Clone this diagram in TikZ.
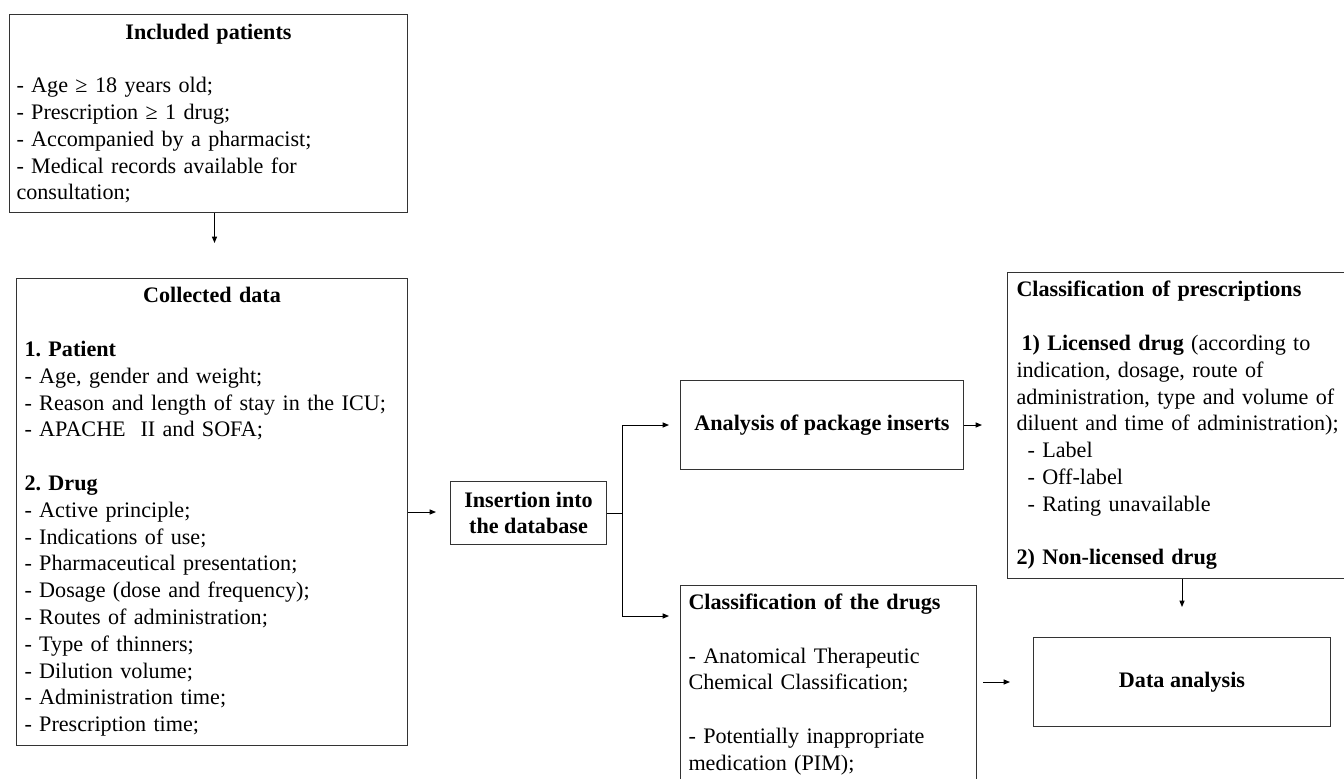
\documentclass[tikz,border=0pt]{standalone}
\usepackage{fontspec}
\setmainfont{Liberation Serif}
\usetikzlibrary{arrows.meta,calc}
\frenchspacing
\begin{document}
\begin{tikzpicture}[x=0.75pt,y=-0.75pt,
  box/.style={draw=black!80, line width=0.75pt, rectangle, anchor=north west, inner ysep=0pt,
    font=\fontsize{16.6pt}{20.1pt}\selectfont},
  lbox/.style={box, align=left},
  cbox/.style={box, align=center, font=\fontsize{16.6pt}{20.1pt}\selectfont\bfseries},
  arr/.style={-{Triangle[length=4.8pt,width=3.8pt]}, line width=0.75pt},
  ln/.style={line width=0.75pt}]
\useasboundingbox (0,0) rectangle (1344,778);
\clip (0,0) rectangle (1344,778);

\node[lbox, inner xsep=5.25pt, text width=288pt, minimum height=148.5pt] (inc) at (9,14)
{\centering\textbf{Included patients}\par\raggedright
\mbox{}\\
- Age ≥ 18 years old;\\
- Prescription ≥ 1 drug;\\
- Accompanied by a pharmacist;\\
- Medical records available for\\
consultation;};

\node[lbox, inner xsep=6pt, text width=281.25pt, minimum height=350.25pt] (col) at (16,278)
{\centering\textbf{Collected data}\par\raggedright
\mbox{}\\
\textbf{1. Patient}\\
- Age, gender and weight;\\
- Reason and length of stay in the ICU;\\
- APACHE\ \ II and SOFA;\\
\mbox{}\\
\textbf{2. Drug}\\
- Active principle;\\
- Indications of use;\\
- Pharmaceutical presentation;\\
- Dosage (dose and frequency);\\
- Routes of administration;\\
- Type of thinners;\\
- Dilution volume;\\
- Administration time;\\
- Prescription time;};

\node[cbox, minimum width=117pt, minimum height=47.25pt] (ins) at (450,481)
{Insertion into\\the database};

\node[cbox, minimum width=212.25pt, minimum height=66.75pt] (ana) at (680,380)
{Analysis of package inserts};

\node[lbox, inner xsep=6.75pt, text width=251.25pt, minimum height=229.5pt] (pres) at (1007,272)
{\textbf{Classification of prescriptions}\\
\mbox{}\\
\hspace*{3.75pt}\textbf{1) Licensed drug} (according to\\
indication, dosage, route of\\
administration, type and volume of\\
diluent and time of administration);\\
\hspace*{8.25pt}- Label\\
\hspace*{8.25pt}- Off-label\\
\hspace*{8.25pt}- Rating unavailable\\
\mbox{}\\
\textbf{2) Non-licensed drug}};

\node[lbox, inner xsep=6pt, text width=210pt, minimum height=148.5pt] (drugs) at (680,585)
{\textbf{Classification of the drugs}\\
\mbox{}\\
- Anatomical Therapeutic\\
Chemical Classification;\\
\mbox{}\\
- Potentially inappropriate\\
medication (PIM);};

\node[cbox, minimum width=222.75pt, minimum height=66.75pt] (data) at (1033,637)
{Data analysis};

\draw[arr, shorten >=26.25pt] ([xshift=4.5pt]inc.south) -- ([xshift=4.5pt]inc.south |- col.north);
\draw[arr, shorten >=10.5pt] (col.east) -- (col.east -| ins.west);
\coordinate (split) at ($(ins.east)+(15,0)$);
\draw[ln] (ins.east) -- (split);
\draw[arr, shorten >=8.25pt] (split) |- (ana.west);
\draw[arr, shorten >=8.25pt] (split) |- ([yshift=-23.25pt]drugs.north west);
\draw[arr, shorten >=18.75pt] (ana.east) -- (ana.east -| pres.west);
\draw[arr, shorten >=22.5pt] (data.north |- pres.south) -- (data.north);
\draw[arr, shorten <=4.5pt, shorten >=17.25pt] (data.west -| drugs.east) -- (data.west);
\end{tikzpicture}
\end{document}
